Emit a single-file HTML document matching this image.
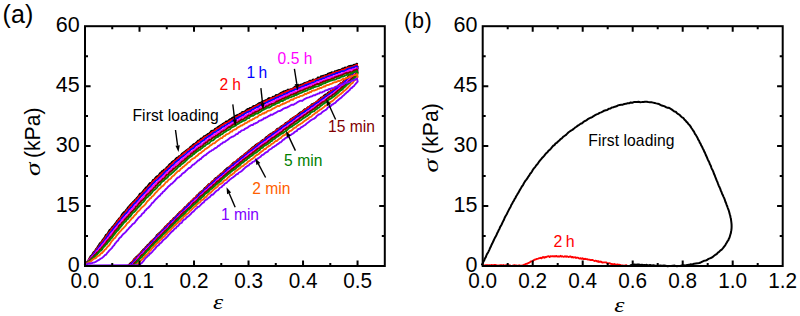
<!DOCTYPE html>
<html><head><meta charset="utf-8"><style>
html,body{margin:0;padding:0;background:#fff;}
body{width:800px;height:316px;overflow:hidden;font-family:"Liberation Sans",sans-serif;}
svg{display:block;}
</style></head><body>
<svg width="800" height="316" viewBox="0 0 800 316">
<rect width="800" height="316" fill="#fff"/>
<path d="M85,264.89 86,264.03 87,262.32 88,261.11 89,259.65 90,257.5 91,255.97 92,255.51 93,253.36 94,251.89 95,251.37 96,249.32 97,248.34 98,246.5 99,245.29 100,243.31 101,242.51 102,241.41 103,239.63 104,238.53 105,237.1 106,235.02 107,234.52 108,232.99 109,231.32 110,229.68 111,229.38 112,227.61 113,226.62 114,225.52 115,224.05 116,223.03 117,221.14 118,220.38 119,218.7 120,218.06 121,216.76 122,214.6 123,213.43 124,212.32 125,212.02 126,210.19 127,209.23 128,207.66 129,206.74 130,205.43 131,204.23 132,203.36 133,202.21 134,201.46 135,200.06 136,199.24 137,198.04 138,197.09 139,195.6 140,193.9 141,193.65 142,192.69 143,191.55 144,190.07 145,189.19 146,187.53 147,187.23 148,185.87 149,184.49 150,183.2 151,183.13 152,182.27 153,180.18 154,180.04 155,178.57 156,177.27 157,176.46 158,176.05 159,175.2 160,173.24 161,172.97 162,171.33 163,171.2 164,169.79 165,169.52 166,168.71 167,167.21 168,166.89 169,165.15 170,163.97 171,163.7 172,162.12 173,161.43 174,160.81 175,160.17 176,158.76 177,157.76 178,157.89 179,156.37 180,156.3 181,155.38 182,153.92 183,153.19 184,152.44 185,151.76 186,150.89 187,150.04 188,149.31 189,148.89 190,147.58 191,146.7 192,146.26 193,144.91 194,144.21 195,144.25 196,142.94 197,142.22 198,140.82 199,140.56 200,140.01 201,138.6 202,138.58 203,137.88 204,136.47 205,136.43 206,135.52 207,135.07 208,133.97 209,133.7 210,133.04 211,131.49 212,130.85 213,130.91 214,130.57 215,129.05 216,128.63 217,128.13 218,127.14 219,126.54 220,125.83 221,125.25 222,124.88 223,123.88 224,123.34 225,123.19 226,121.67 227,121.7 228,121.28 229,120.16 230,119.44 231,119.53 232,118.25 233,117.6 234,117.3 235,117.02 236,115.72 237,115.41 238,114.84 239,114.87 240,113.82 241,113.75 242,112.37 243,112.01 244,111.83 245,111.56 246,110.49 247,109.67 248,109 249,108.95 250,108.01 251,108.22 252,107.72 253,106.41 254,106 255,106.12 256,105.4 257,105.09 258,104.02 259,103.26 260,102.95 261,103.05 262,101.93 263,101.52 264,101.11 265,100.63 266,100.13 267,100.26 268,98.86 269,98.2 270,98.85 271,98.3 272,97.96 273,96.83 274,96.99 275,96.5 276,95.19 277,95.36 278,95.02 279,94.36 280,93.73 281,93.01 282,92.63 283,92.05 284,91.42 285,91.6 286,90.81 287,91 288,89.65 289,90.25 290,89.57 291,89.42 292,88.97 293,88.55 294,87.74 295,86.65 296,87.11 297,86.01 298,85.75 299,85.78 300,85.21 301,84.67 302,84.89 303,84.1 304,83.37 305,82.86 306,83.2 307,82.34 308,82.31 309,81.4 310,80.82 311,80.84 312,80.79 313,79.63 314,79.99 315,79.76 316,79.23 317,78.87 318,77.51 319,77.88 320,77.78 321,76.43 322,76.32 323,75.94 324,75.87 325,75.37 326,75.06 327,75.05 328,73.75 329,73.45 330,73.17 331,72.8 332,72.36 333,73.08 334,72.57 335,71.28 336,71.42 337,70.83 338,70.47 339,70.15 340,70.14 341,69.71 342,69.07 343,68.51 344,68.32 345,67.71 346,67.87 347,67.7 348,66.94 349,66.22 350,65.98 351,65.85 352,65.77 353,65.63 354,64.79 355,64.94 356,64.36 357,63.78" fill="none" stroke="#000000" stroke-width="2.2" stroke-linejoin="round" stroke-linecap="round"/>
<path d="M357.7,66.71 356.7,67.96 355.7,69.29 354.7,70.03 353.7,71.41 352.7,72.18 351.7,72.94 350.7,74.3 349.7,75.49 348.7,75.72 347.7,77.11 346.7,78.05 345.7,79.53 344.7,80.52 343.7,80.75 342.7,82.26 341.7,83.01 340.7,83.23 339.7,84.31 338.7,84.73 337.7,86.37 336.7,86.99 335.7,88.04 334.7,88.69 333.7,89.29 332.7,90.11 331.7,90.63 330.7,90.8 329.7,92.1 328.7,92.11 327.7,93 326.7,94.47 325.7,94.31 324.7,95.08 323.7,95.8 322.7,97.45 321.7,97.32 320.7,97.84 319.7,99.53 318.7,99.38 317.7,100.95 316.7,101.46 315.7,102.36 314.7,103.21 313.7,103.46 312.7,104.43 311.7,104.23 310.7,105.81 309.7,106.21 308.7,107.16 307.7,107.13 306.7,108.61 305.7,109.54 304.7,109.19 303.7,110.22 302.7,111.21 301.7,112.23 300.7,112.23 299.7,112.87 298.7,113.66 297.7,114.8 296.7,115.68 295.7,115.95 294.7,116.63 293.7,117.37 292.7,118.03 291.7,118.82 290.7,119.13 289.7,120.34 288.7,121.62 287.7,121.66 286.7,122.78 285.7,122.79 284.7,124.14 283.7,124.94 282.7,125.56 281.7,126.09 280.7,126.77 279.7,127.69 278.7,128.71 277.7,128.54 276.7,129.2 275.7,130.71 274.7,131.64 273.7,131.9 272.7,132.54 271.7,133.6 270.7,133.7 269.7,134.53 268.7,135.19 267.7,136.4 266.7,136.81 265.7,137.46 264.7,138.76 263.7,139.82 262.7,139.78 261.7,141.02 260.7,141.43 259.7,142.71 258.7,143.15 257.7,143.53 256.7,144.23 255.7,144.76 254.7,146.08 253.7,146.74 252.7,147.26 251.7,148.26 250.7,148.99 249.7,150.31 248.7,150.34 247.7,152.14 246.7,152.32 245.7,153.25 244.7,153.89 243.7,155.13 242.7,155.91 241.7,156.4 240.7,157.12 239.7,158.21 238.7,159.19 237.7,159.46 236.7,160.68 235.7,161.77 234.7,162.01 233.7,162.55 232.7,163.39 231.7,164.81 230.7,165.6 229.7,166.78 228.7,167.5 227.7,167.62 226.7,168.41 225.7,169.35 224.7,170.13 223.7,171.61 222.7,172.67 221.7,173.59 220.7,173.69 219.7,175.3 218.7,175.52 217.7,176.53 216.7,177.79 215.7,177.91 214.7,178.81 213.7,180.6 212.7,180.85 211.7,181.83 210.7,183.01 209.7,184.03 208.7,184.14 207.7,185.45 206.7,186.49 205.7,187.47 204.7,188.07 203.7,189.44 202.7,190.82 201.7,191.08 200.7,192.2 199.7,192.63 198.7,193.75 197.7,195.17 196.7,195.45 195.7,197.33 194.7,198.31 193.7,198.29 192.7,200.26 191.7,200.54 190.7,201.99 189.7,202.93 188.7,203.35 187.7,204.78 186.7,205.72 185.7,206.88 184.7,207.21 183.7,208.78 182.7,210.01 181.7,210.65 180.7,211.47 179.7,211.96 178.7,213.41 177.7,214.23 176.7,215.67 175.7,216.62 174.7,217.49 173.7,218.03 172.7,219.59 171.7,220.58 170.7,221.05 169.7,222.91 168.7,223.65 167.7,224.02 166.7,226.01 165.7,226.08 164.7,227.33 163.7,228.82 162.7,229.7 161.7,230.68 160.7,231.82 159.7,232.62 158.7,233.48 157.7,234.35 156.7,235.26 155.7,237.07 154.7,238.16 153.7,238.95 152.7,240.22 151.7,240.81 150.7,241.75 149.7,242.93 148.7,244.57 147.7,244.62 146.7,246.23 145.7,246.98 144.7,248.66 143.7,249.22 142.7,250.25 141.7,251.39 140.7,252.62 139.7,253.95 138.7,254.51 137.7,256.17 136.7,256.36 135.7,257.61 134.7,258.47 133.7,259.56 132.7,261.43 131.7,262.44 130.7,262.86 129.7,263.94 128.7,265.1" fill="none" stroke="#000000" stroke-width="1.8" stroke-linejoin="round" stroke-linecap="round"/>
<path d="M85,265.42 86,264.29 87,262.8 88,261.24 89,259.43 90,258.25 91,256.67 92,255.59 93,254.24 94,252.54 95,251.21 96,250.33 97,248.29 98,247.64 99,246.37 100,245.08 101,243.22 102,242.04 103,240.73 104,239.45 105,238.43 106,236.84 107,235.17 108,234.36 109,232.71 110,231.52 111,230.33 112,228.38 113,227.79 114,226.41 115,224.99 116,223.75 117,222.44 118,220.95 119,220.01 120,218.34 121,217.53 122,216.45 123,215.07 124,213.98 125,213.14 126,211.9 127,210.04 128,209.46 129,208.14 130,206.47 131,205.59 132,204.33 133,203.05 134,202.33 135,201.56 136,199.89 137,199.27 138,198.01 139,196.4 140,195.96 141,194.64 142,193.85 143,192.58 144,191.54 145,190.12 146,189.48 147,188.54 148,187.43 149,186.01 150,185.27 151,184 152,182.64 153,181.57 154,180.6 155,179.71 156,178.68 157,177.99 158,177.19 159,176.07 160,175 161,174.24 162,172.98 163,172.17 164,171.49 165,170.23 166,169.1 167,168.82 168,167.74 169,166.51 170,165.61 171,164.85 172,164.01 173,162.79 174,161.7 175,161.01 176,160.65 177,159.21 178,158.63 179,157.54 180,156.7 181,155.82 182,155.19 183,154.15 184,153.19 185,152.44 186,151.68 187,151.16 188,149.96 189,149.13 190,148.71 191,147.89 192,147.37 193,146 194,145.54 195,144.76 196,143.67 197,143.75 198,142.32 199,141.46 200,141.06 201,140.04 202,139.72 203,138.74 204,137.81 205,137.03 206,136.92 207,135.8 208,135.56 209,134.56 210,134.29 211,133.03 212,132.29 213,131.62 214,131.44 215,130.6 216,129.67 217,128.78 218,128.65 219,128.25 220,127.26 221,126.08 222,125.46 223,124.87 224,124.31 225,123.56 226,122.95 227,122.86 228,122.47 229,121.22 230,121.31 231,120.25 232,119.94 233,119.45 234,118.87 235,117.46 236,117.12 237,116.81 238,116.53 239,115.18 240,114.8 241,114.73 242,113.5 243,113.19 244,112.58 245,112.33 246,112.01 247,110.78 248,110.74 249,110.2 250,109.75 251,108.96 252,108.76 253,107.73 254,107.25 255,106.57 256,106.54 257,105.76 258,105.06 259,104.46 260,104.45 261,103.84 262,103.44 263,102.65 264,102.24 265,101.45 266,101.47 267,100.36 268,100.28 269,100.06 270,99.51 271,98.51 272,98.17 273,98.24 274,97.6 275,97.34 276,96.88 277,96.04 278,95.98 279,95.38 280,94.57 281,94.15 282,93.44 283,93.29 284,93.35 285,92.14 286,92.12 287,91.27 288,90.81 289,90.89 290,90.1 291,89.5 292,89.17 293,89.19 294,88.71 295,87.78 296,87.55 297,87.8 298,86.72 299,86.61 300,86.08 301,85.99 302,85.43 303,85.19 304,84.56 305,83.84 306,83.44 307,82.95 308,83.22 309,82.19 310,81.71 311,82.17 312,81.09 313,81.32 314,80.21 315,80.16 316,79.56 317,79.72 318,79.15 319,78.79 320,78.52 321,78.24 322,77.39 323,77.24 324,76.72 325,76.05 326,76.33 327,75.74 328,75.56 329,74.64 330,74.57 331,74.14 332,74.01 333,73.05 334,72.93 335,72.68 336,71.95 337,72.02 338,71.82 339,71.17 340,71.01 341,70.61 342,69.89 343,69.66 344,69.88 345,68.92 346,68.65 347,67.97 348,67.73 349,67.33 350,67.66 351,67.11 352,66.89 353,66.63 354,65.94 355,65.86 356,65.15 357,64.69 357.7,68.16 356.7,69.2 355.7,70.31 354.7,70.94 353.7,72.23 352.7,72.92 351.7,74.46 350.7,75.38 349.7,75.79 348.7,77.33 347.7,77.6 346.7,78.45 345.7,79.94 344.7,80.46 343.7,81.55 342.7,82.53 341.7,82.86 340.7,84.34 339.7,84.75 338.7,85.71 337.7,86.44 336.7,87.59 335.7,88.38 334.7,88.73 333.7,89.32 332.7,90.23 331.7,91.06 330.7,91.48 329.7,92.27 328.7,93.53 327.7,94.19 326.7,95.16 325.7,95.88 324.7,96.5 323.7,96.76 322.7,97.28 321.7,98.13 320.7,98.98 319.7,99.75 318.7,100.47 317.7,101.02 316.7,102.17 315.7,102.37 314.7,103.23 313.7,104.32 312.7,104.96 311.7,105.21 310.7,105.86 309.7,107.08 308.7,107.07 307.7,107.88 306.7,108.95 305.7,109.66 304.7,110.03 303.7,110.63 302.7,111.48 301.7,112.69 300.7,113.13 299.7,114.29 298.7,114.83 297.7,115.71 296.7,115.57 295.7,116.41 294.7,116.96 293.7,118.05 292.7,118.67 291.7,119.13 290.7,120.28 289.7,120.59 288.7,121.49 287.7,122.15 286.7,123.36 285.7,123.73 284.7,124.31 283.7,124.83 282.7,125.89 281.7,126.79 280.7,127.55 279.7,128.49 278.7,129.12 277.7,129.34 276.7,129.96 275.7,131.25 274.7,132.01 273.7,132.48 272.7,133.5 271.7,133.99 270.7,134.48 269.7,135.11 268.7,135.71 267.7,137.02 266.7,137.99 265.7,138.74 264.7,139.09 263.7,140.01 262.7,141 261.7,141.65 260.7,142.21 259.7,142.8 258.7,143.65 257.7,144.1 256.7,144.87 255.7,146.09 254.7,147.13 253.7,147.5 252.7,148.15 251.7,148.87 250.7,149.74 249.7,150.83 248.7,151.3 247.7,152.54 246.7,152.61 245.7,153.54 244.7,154.52 243.7,155.22 242.7,156.41 241.7,157.2 240.7,158.09 239.7,158.62 238.7,158.9 237.7,160.21 236.7,161.01 235.7,161.77 234.7,162.41 233.7,163.62 232.7,164.64 231.7,164.75 230.7,166.09 229.7,166.67 228.7,167.64 227.7,168.84 226.7,169.75 225.7,170.32 224.7,170.77 223.7,172.29 222.7,172.49 221.7,173.54 220.7,174.82 219.7,175.23 218.7,176.07 217.7,177.57 216.7,178.45 215.7,178.77 214.7,179.73 213.7,180.53 212.7,181.29 211.7,182.3 210.7,183.86 209.7,183.96 208.7,185.01 207.7,185.89 206.7,186.7 205.7,188.03 204.7,189.14 203.7,190.16 202.7,190.9 201.7,192 200.7,192.2 199.7,193.39 198.7,194.94 197.7,195.08 196.7,196.21 195.7,197.35 194.7,198.11 193.7,199.31 192.7,199.82 191.7,200.95 190.7,202.56 189.7,202.79 188.7,204.44 187.7,204.76 186.7,206.46 185.7,207.15 184.7,208.1 183.7,208.63 182.7,209.53 181.7,211.15 180.7,211.61 179.7,212.61 178.7,214.17 177.7,215.21 176.7,215.46 175.7,217.28 174.7,217.9 173.7,218.76 172.7,219.52 171.7,220.78 170.7,222.33 169.7,222.7 168.7,223.58 167.7,224.61 166.7,225.61 165.7,226.83 164.7,228.36 163.7,228.63 162.7,229.76 161.7,231.45 160.7,232.54 159.7,233.55 158.7,233.92 157.7,235.05 156.7,236.63 155.7,237.24 154.7,238.48 153.7,239.17 152.7,239.95 151.7,241.28 150.7,242.69 149.7,243.77 148.7,244.63 147.7,245.58 146.7,246.7 145.7,247.67 144.7,248.81 143.7,250.13 142.7,250.62 141.7,252.04 140.7,253.4 139.7,254.39 138.7,254.85 137.7,256.62 136.7,257.57 135.7,258.03 134.7,259.19 133.7,260.2 132.7,261.14 131.7,263.05 130.7,263.61 129.7,265.1 128.7,264.85" fill="none" stroke="#ff0000" stroke-width="1.9" stroke-linejoin="round" stroke-linecap="round"/>
<path d="M85,264.76 86,264.39 87,263 88,261.87 89,260.29 90,258.85 91,257.78 92,255.89 93,255.01 94,253.65 95,252.11 96,251.25 97,249.73 98,248.63 99,247.24 100,245.91 101,244.68 102,243.61 103,242.67 104,241.34 105,239.99 106,238.67 107,236.88 108,236.21 109,234.28 110,232.85 111,231.9 112,230.83 113,229.19 114,228.19 115,226.6 116,225.96 117,224.24 118,223.02 119,221.84 120,220.93 121,219.82 122,218.21 123,216.94 124,215.92 125,214.25 126,213.4 127,212.61 128,211.39 129,209.58 130,209.15 131,207.58 132,206.98 133,205.29 134,204.03 135,203.21 136,202.39 137,200.87 138,200.16 139,198.92 140,197.51 141,196.37 142,195.47 143,194.3 144,193.2 145,192.39 146,191.53 147,190.21 148,188.77 149,187.8 150,186.9 151,186.09 152,184.64 153,183.57 154,182.77 155,181.73 156,180.5 157,179.97 158,179.33 159,178 160,177.21 161,176.32 162,175.37 163,174.48 164,173.11 165,172.38 166,170.94 167,170.69 168,169.31 169,168.48 170,167.94 171,166.49 172,165.51 173,165.18 174,164.09 175,162.74 176,161.82 177,161.23 178,160.06 179,159.94 180,158.5 181,157.73 182,156.99 183,156.27 184,155.36 185,154.71 186,153.92 187,152.9 188,151.79 189,151.78 190,150.72 191,149.37 192,148.91 193,148.4 194,147.84 195,146.23 196,145.41 197,145.07 198,144.26 199,143.93 200,143.12 201,141.94 202,141.27 203,140.69 204,140.23 205,138.89 206,138.35 207,137.36 208,137.15 209,135.89 210,136 211,134.94 212,134.29 213,133.17 214,132.62 215,132.15 216,131.83 217,130.87 218,129.98 219,129.95 220,129 221,128.23 222,127.29 223,126.74 224,126.64 225,125.32 226,125.04 227,124.5 228,123.64 229,123.39 230,122.91 231,122.25 232,121.53 233,120.45 234,119.72 235,119.47 236,118.77 237,118.07 238,118.1 239,116.93 240,116.9 241,116.43 242,115.13 243,115.28 244,114.25 245,113.53 246,112.95 247,112.27 248,112.13 249,111.49 250,111.37 251,110.81 252,109.58 253,109.36 254,108.82 255,108.11 256,107.65 257,107.15 258,107.02 259,106.19 260,105.47 261,105.07 262,104.76 263,104.37 264,103.59 265,103.5 266,102.58 267,102.5 268,101.96 269,101.08 270,101.12 271,100.32 272,99.98 273,99.56 274,99.12 275,98.48 276,97.67 277,97.87 278,97.47 279,96.68 280,96.31 281,95.58 282,95.69 283,95.05 284,94.19 285,94.28 286,94 287,92.98 288,93.13 289,92.23 290,91.53 291,91.58 292,90.81 293,90.74 294,90.18 295,89.33 296,89.29 297,89.17 298,88.41 299,88.05 300,87.93 301,87.15 302,86.78 303,86.45 304,86.26 305,85.3 306,84.8 307,85 308,84.41 309,83.79 310,83.93 311,83.53 312,82.82 313,82.83 314,82.31 315,81.84 316,81.04 317,80.4 318,80.62 319,80.28 320,79.56 321,79.29 322,78.99 323,78.32 324,78.35 325,77.85 326,77.31 327,76.69 328,76.72 329,76.13 330,76.13 331,75.26 332,75.09 333,74.54 334,74.36 335,74.14 336,73.35 337,72.94 338,72.96 339,72.34 340,72.25 341,71.58 342,71.16 343,71.19 344,71.17 345,70.76 346,70.08 347,69.61 348,68.96 349,68.78 350,68.46 351,68.66 352,67.56 353,67.95 354,67.17 355,66.77 356,66.25 357,66.53 357.7,68.83 356.7,70.24 355.7,71.25 354.7,72.01 353.7,73.06 352.7,74.76 351.7,75.58 350.7,76.52 349.7,77.64 348.7,77.88 347.7,79.37 346.7,80.34 345.7,80.78 344.7,81.89 343.7,83.25 342.7,83.54 341.7,84.8 340.7,85.11 339.7,86.39 338.7,86.86 337.7,87.88 336.7,88.55 335.7,89.78 334.7,90.44 333.7,90.98 332.7,91.89 331.7,92.38 330.7,93.45 329.7,93.68 328.7,94.66 327.7,95.42 326.7,95.96 325.7,96.37 324.7,97.2 323.7,98.34 322.7,98.67 321.7,99.88 320.7,100.37 319.7,101.48 318.7,102.1 317.7,102.7 316.7,103.1 315.7,103.51 314.7,104.68 313.7,105.56 312.7,106.43 311.7,106.49 310.7,107.16 309.7,108.6 308.7,109.1 307.7,109.57 306.7,110.51 305.7,110.68 304.7,111.75 303.7,112.56 302.7,113.21 301.7,113.52 300.7,114.21 299.7,115.35 298.7,116.29 297.7,116.33 296.7,116.92 295.7,117.69 294.7,119.03 293.7,119.39 292.7,120.15 291.7,121.35 290.7,121.71 289.7,122.11 288.7,123.22 287.7,123.3 286.7,124.27 285.7,125.35 284.7,125.59 283.7,126.19 282.7,127.34 281.7,127.89 280.7,129.18 279.7,129.12 278.7,130.47 277.7,130.82 276.7,131.92 275.7,132.32 274.7,133.25 273.7,133.67 272.7,134.31 271.7,135.24 270.7,136.29 269.7,136.61 268.7,137.25 267.7,138.15 266.7,138.6 265.7,139.54 264.7,140.52 263.7,141.24 262.7,142.03 261.7,142.5 260.7,143.02 259.7,143.77 258.7,144.81 257.7,145.44 256.7,146.53 255.7,147.02 254.7,148.23 253.7,148.85 252.7,149.68 251.7,150.52 250.7,151.1 249.7,151.79 248.7,152.47 247.7,153.03 246.7,154.47 245.7,155 244.7,155.43 243.7,156.96 242.7,157.45 241.7,158.29 240.7,158.93 239.7,159.45 238.7,161.05 237.7,161.11 236.7,162.1 235.7,163.49 234.7,163.53 233.7,164.69 232.7,165.5 231.7,166.13 230.7,167.57 229.7,167.95 228.7,168.43 227.7,169.69 226.7,170.12 225.7,171.61 224.7,172.61 223.7,173.5 222.7,173.59 221.7,175.02 220.7,175.56 219.7,176.58 218.7,177.3 217.7,178.19 216.7,178.91 215.7,180.24 214.7,180.65 213.7,182.33 212.7,182.4 211.7,184.12 210.7,184.33 209.7,185.14 208.7,186.64 207.7,187.36 206.7,188.48 205.7,189.16 204.7,190.19 203.7,190.62 202.7,192.08 201.7,192.86 200.7,194.2 199.7,194.27 198.7,195.26 197.7,196.75 196.7,197.92 195.7,198.41 194.7,199.61 193.7,200.43 192.7,201.23 191.7,202.25 190.7,203.33 189.7,203.78 188.7,204.99 187.7,206.34 186.7,206.88 185.7,208.04 184.7,208.82 183.7,209.89 182.7,211.13 181.7,212.2 180.7,213.37 179.7,213.92 178.7,214.67 177.7,215.78 176.7,216.52 175.7,217.68 174.7,218.98 173.7,220.01 172.7,220.68 171.7,221.63 170.7,222.56 169.7,223.64 168.7,224.94 167.7,225.73 166.7,227.31 165.7,228.04 164.7,228.85 163.7,229.96 162.7,230.63 161.7,232.28 160.7,233.32 159.7,234 158.7,235.36 157.7,235.98 156.7,236.97 155.7,238.01 154.7,239.02 153.7,240.43 152.7,241.5 151.7,242.62 150.7,243.11 149.7,244.75 148.7,245.54 147.7,246.5 146.7,247.67 145.7,248.66 144.7,249.5 143.7,250.73 142.7,252.02 141.7,253.14 140.7,254.38 139.7,254.8 138.7,256.49 137.7,257.47 136.7,258.46 135.7,259.77 134.7,260.08 133.7,261.73 132.7,262.91 131.7,263.29 130.7,264.79 129.7,265.6" fill="none" stroke="#0000ff" stroke-width="1.9" stroke-linejoin="round" stroke-linecap="round"/>
<path d="M85,265.01 86,264.44 87,263.31 88,261.72 89,260.3 90,259.21 91,258.62 92,257.11 93,255.87 94,254.84 95,254.14 96,252.38 97,251.02 98,250.7 99,248.96 100,247.85 101,247.19 102,245.37 103,243.98 104,243.47 105,241.65 106,240.37 107,239.76 108,237.85 109,237.18 110,235.4 111,234.09 112,232.74 113,231.76 114,230.51 115,229.1 116,227.95 117,226.52 118,225.77 119,224.63 120,223.26 121,222.13 122,220.27 123,219.27 124,218.06 125,216.86 126,216.44 127,215.24 128,214.1 129,212.63 130,211.1 131,210.25 132,208.78 133,208.42 134,206.72 135,205.63 136,205.11 137,203.33 138,202.87 139,201.22 140,200.45 141,198.86 142,198.49 143,196.96 144,195.84 145,195.05 146,193.93 147,192.56 148,191.39 149,190.75 150,189.22 151,188.94 152,187.44 153,186.26 154,185.38 155,184.18 156,183.35 157,182.56 158,181.44 159,180.39 160,179.37 161,178.57 162,177.86 163,176.59 164,175.93 165,174.73 166,173.46 167,172.56 168,172.24 169,170.99 170,169.98 171,169.19 172,168.58 173,167.25 174,166.34 175,165.46 176,164.26 177,163.86 178,162.93 179,162.08 180,161.18 181,160.34 182,159.71 183,158.39 184,158.27 185,156.66 186,156.51 187,155.06 188,154.8 189,153.51 190,152.54 191,152.16 192,151.63 193,150.85 194,150.1 195,149.41 196,147.8 197,147.33 198,146.32 199,146.14 200,145.12 201,144.63 202,143.94 203,143.38 204,142.36 205,141.81 206,140.79 207,139.65 208,139.67 209,138.24 210,137.53 211,137.5 212,136.31 213,135.96 214,134.7 215,134.19 216,133.96 217,132.68 218,132.44 219,132.16 220,130.85 221,130.64 222,130.02 223,129.26 224,128.75 225,128.05 226,126.8 227,126.33 228,126.02 229,125.79 230,124.49 231,124.21 232,123.19 233,123.23 234,122.27 235,121.74 236,121.28 237,120.21 238,120.15 239,119.63 240,119.11 241,118.01 242,117.4 243,116.77 244,116.86 245,115.89 246,115.29 247,114.85 248,114.46 249,113.57 250,113.04 251,112.89 252,112.36 253,111.39 254,110.66 255,110.9 256,110.2 257,109.55 258,108.87 259,108.85 260,107.86 261,107.16 262,106.55 263,106.27 264,105.99 265,105.28 266,105.31 267,104.55 268,103.89 269,103.59 270,103.05 271,102.58 272,101.99 273,101.54 274,101.04 275,100.87 276,99.83 277,99.9 278,99 279,99.03 280,97.87 281,97.79 282,97.3 283,97.09 284,96.18 285,95.79 286,95.23 287,95.17 288,94.74 289,93.79 290,93.51 291,93.1 292,93.35 293,92.46 294,92.14 295,91.46 296,91.37 297,91.09 298,90.54 299,89.52 300,89.5 301,89.13 302,88.31 303,88.57 304,87.74 305,87.31 306,87.2 307,86.76 308,86.28 309,86.21 310,85.5 311,84.94 312,84.3 313,84.34 314,83.78 315,83.54 316,82.98 317,82.28 318,81.92 319,81.64 320,81.2 321,81.5 322,80.87 323,80.18 324,80.22 325,79.78 326,78.88 327,79.12 328,78.28 329,78.59 330,77.45 331,77.2 332,76.8 333,76.98 334,76.57 335,75.98 336,75.23 337,75.11 338,74.99 339,74.04 340,74.45 341,74.01 342,73.73 343,73.15 344,72.72 345,72.67 346,71.67 347,71.34 348,70.82 349,70.51 350,70.7 351,69.71 352,69.93 353,69.26 354,69.33 355,68.86 356,68.44 357,68.22 357.7,70.5 356.7,71.77 355.7,72.92 354.7,74.02 353.7,75.27 352.7,76.47 351.7,77.35 350.7,78.5 349.7,79.27 348.7,79.92 347.7,81.01 346.7,82.16 345.7,83.14 344.7,83.64 343.7,84.52 342.7,85.64 341.7,86.15 340.7,87.6 339.7,87.64 338.7,89.05 337.7,89.72 336.7,90.26 335.7,91.38 334.7,92.07 333.7,93.27 332.7,93.95 331.7,94.42 330.7,95.4 329.7,96.15 328.7,96.23 327.7,97.55 326.7,98.28 325.7,99.15 324.7,99.66 323.7,100.05 322.7,100.61 321.7,101.73 320.7,102.05 319.7,103.26 318.7,103.81 317.7,104.75 316.7,105.04 315.7,105.71 314.7,106.96 313.7,107.46 312.7,107.91 311.7,108.79 310.7,109.38 309.7,110.28 308.7,110.88 307.7,111.38 306.7,112.71 305.7,113.33 304.7,113.93 303.7,114.2 302.7,114.83 301.7,116.02 300.7,116.81 299.7,117.37 298.7,117.68 297.7,118.84 296.7,119.37 295.7,119.94 294.7,120.84 293.7,121.43 292.7,122.31 291.7,123.12 290.7,124.03 289.7,123.96 288.7,125.08 287.7,126.13 286.7,126.58 285.7,127.22 284.7,128.18 283.7,128.16 282.7,129.56 281.7,130.12 280.7,130.8 279.7,131.28 278.7,132.27 277.7,132.55 276.7,133.63 275.7,134.11 274.7,135.44 273.7,136.05 272.7,136.48 271.7,137.46 270.7,137.86 269.7,138.71 268.7,139.12 267.7,140.48 266.7,141.13 265.7,141.87 264.7,142 263.7,143.4 262.7,143.42 261.7,144.67 260.7,145.34 259.7,145.71 258.7,146.79 257.7,147.96 256.7,148.48 255.7,148.96 254.7,150.17 253.7,150.52 252.7,151.77 251.7,152.1 250.7,152.58 249.7,154.16 248.7,154.12 247.7,155.07 246.7,156.31 245.7,156.51 244.7,157.68 243.7,158.76 242.7,159.31 241.7,159.89 240.7,161.05 239.7,161.92 238.7,162.5 237.7,163.35 236.7,163.89 235.7,164.78 234.7,166.13 233.7,166.93 232.7,166.88 231.7,167.89 230.7,168.74 229.7,170.09 228.7,170.39 227.7,171.21 226.7,172.59 225.7,172.9 224.7,174.48 223.7,174.86 222.7,176.12 221.7,176.91 220.7,177.22 219.7,178.61 218.7,179.15 217.7,179.85 216.7,180.57 215.7,182.04 214.7,182.79 213.7,183.45 212.7,184.81 211.7,185.13 210.7,186.25 209.7,186.83 208.7,187.97 207.7,189.35 206.7,189.91 205.7,190.51 204.7,191.5 203.7,192.78 202.7,193.37 201.7,194.84 200.7,195.02 199.7,196.68 198.7,197.39 197.7,198.5 196.7,199.02 195.7,199.7 194.7,200.73 193.7,202.09 192.7,202.49 191.7,203.52 190.7,205.08 189.7,206.12 188.7,207.05 187.7,208 186.7,208.71 185.7,209.96 184.7,210.77 183.7,211.61 182.7,212.47 181.7,213.08 180.7,214.12 179.7,215.24 178.7,216.42 177.7,217.1 176.7,218.85 175.7,219.48 174.7,220.62 173.7,221.76 172.7,222.15 171.7,223.75 170.7,224.81 169.7,225.2 168.7,226.08 167.7,227.69 166.7,228.78 165.7,229.72 164.7,230.38 163.7,231.57 162.7,232.15 161.7,233.28 160.7,234.47 159.7,235.79 158.7,236.23 157.7,238.02 156.7,238.24 155.7,240.12 154.7,240.5 153.7,242.06 152.7,243.1 151.7,244.27 150.7,244.87 149.7,246.13 148.7,246.81 147.7,248.35 146.7,248.75 145.7,250.5 144.7,251.29 143.7,251.87 142.7,253.72 141.7,254.22 140.7,255.06 139.7,256.3 138.7,257.16 137.7,258.45 136.7,259.91 135.7,261.23 134.7,261.98 133.7,263.26 132.7,264.31 131.7,265.29 130.7,265.1" fill="none" stroke="#ff00ff" stroke-width="1.9" stroke-linejoin="round" stroke-linecap="round"/>
<path d="M85,264.98 86,263.86 87,263.17 88,261.83 89,261.29 90,259.89 91,259.11 92,258.06 93,257.12 94,255.68 95,254.74 96,254.1 97,252.63 98,251.98 99,251.18 100,249.57 101,248.98 102,247.54 103,246.68 104,245.13 105,244.13 106,242.86 107,241.19 108,240.23 109,239.04 110,237.67 111,236.59 112,235.55 113,234.18 114,232.93 115,231.07 116,230.33 117,229.02 118,228.08 119,226.02 120,224.98 121,224.52 122,222.82 123,221.97 124,220.72 125,219.41 126,218.31 127,217.29 128,216.54 129,215 130,214.1 131,212.54 132,211.79 133,210.57 134,209.58 135,208.59 136,206.76 137,206.46 138,205.03 139,203.62 140,202.71 141,201.29 142,200.33 143,199.79 144,198.6 145,197.67 146,195.97 147,194.86 148,194.05 149,193.1 150,192.25 151,190.83 152,190.19 153,189.02 154,187.73 155,187.16 156,185.51 157,184.97 158,183.6 159,182.48 160,181.88 161,180.94 162,180.05 163,178.86 164,178.4 165,177.31 166,175.8 167,174.72 168,174.64 169,173.22 170,172.02 171,171.16 172,170.72 173,169.34 174,168.62 175,168 176,166.81 177,166.2 178,165.59 179,164.58 180,163.57 181,162.7 182,161.56 183,161.01 184,160.18 185,159.29 186,158.37 187,157.78 188,156.46 189,156.11 190,155.53 191,153.88 192,153.28 193,153.14 194,151.54 195,151.42 196,150.43 197,149.2 198,148.93 199,147.61 200,147.61 201,146.37 202,146.18 203,145.41 204,143.99 205,143.5 206,142.55 207,142.37 208,141.05 209,140.32 210,139.65 211,139.62 212,138.37 213,137.74 214,137.16 215,136.57 216,135.77 217,135.57 218,134.35 219,133.81 220,133.49 221,132.28 222,131.56 223,131.51 224,130.39 225,130.27 226,129.57 227,128.53 228,127.87 229,127.03 230,127.11 231,126.1 232,125.4 233,124.64 234,124.08 235,124.06 236,122.8 237,122.58 238,122.06 239,121.38 240,120.78 241,120.11 242,119.34 243,119.34 244,118.84 245,117.98 246,117.13 247,117.17 248,115.98 249,115.4 250,115.26 251,114.9 252,114.13 253,113.17 254,113.42 255,112.15 256,111.79 257,111.84 258,111.15 259,110.59 260,109.47 261,109.65 262,108.73 263,107.88 264,108.07 265,107.7 266,106.41 267,106.28 268,106.19 269,105.18 270,104.67 271,104.61 272,103.83 273,103.85 274,103.24 275,102.77 276,102.16 277,101.23 278,101.21 279,100.64 280,100.1 281,99.71 282,99.02 283,98.47 284,98.66 285,97.72 286,97.03 287,97.37 288,96.51 289,96.21 290,95.47 291,94.86 292,94.59 293,94.61 294,93.68 295,93.82 296,92.85 297,92.95 298,91.89 299,91.7 300,91 301,90.6 302,90.52 303,89.96 304,89.71 305,89.01 306,88.68 307,88.28 308,88.4 309,87.26 310,87.16 311,87.15 312,86.5 313,85.81 314,86.08 315,84.89 316,84.52 317,84.02 318,84.01 319,84 320,83.09 321,82.7 322,82.78 323,81.75 324,81.31 325,81.51 326,80.61 327,80.62 328,79.9 329,79.93 330,79.78 331,79.05 332,78.51 333,78.45 334,78.15 335,77.19 336,76.99 337,76.74 338,76.49 339,75.91 340,75.89 341,75.16 342,75.37 343,74.51 344,74.02 345,73.53 346,73.21 347,72.92 348,73.16 349,72.38 350,72.04 351,72.14 352,71.79 353,71.24 354,70.41 355,70.13 356,69.93 357,69.34 357.7,72.42 356.7,73.35 355.7,74.42 354.7,75.9 353.7,76.78 352.7,77.64 351.7,78.65 350.7,79.75 349.7,80.78 348.7,81.13 347.7,82.81 346.7,83.39 345.7,84.19 344.7,85.64 343.7,86.35 342.7,86.86 341.7,87.42 340.7,88.64 339.7,89.48 338.7,90.25 337.7,90.81 336.7,92.04 335.7,92.54 334.7,93.77 333.7,94.33 332.7,94.87 331.7,96.09 330.7,96.48 329.7,96.89 328.7,97.8 327.7,98.33 326.7,99.4 325.7,100.56 324.7,101.31 323.7,101.78 322.7,102.05 321.7,102.85 320.7,103.54 319.7,104.41 318.7,105.37 317.7,105.54 316.7,106.67 315.7,107.33 314.7,108.26 313.7,109.12 312.7,109.45 311.7,110.34 310.7,110.76 309.7,111.63 308.7,112.51 307.7,112.69 306.7,113.82 305.7,114.51 304.7,114.94 303.7,115.7 302.7,116.93 301.7,117.21 300.7,117.77 299.7,118.56 298.7,119.48 297.7,120.08 296.7,120.74 295.7,121.43 294.7,122.04 293.7,123 292.7,123.8 291.7,124.05 290.7,125.21 289.7,125.66 288.7,126.97 287.7,127.65 286.7,127.63 285.7,128.85 284.7,129.25 283.7,129.75 282.7,131.15 281.7,131.89 280.7,132.5 279.7,133.08 278.7,134.11 277.7,134.44 276.7,135.27 275.7,135.97 274.7,136.88 273.7,137.6 272.7,137.83 271.7,138.47 270.7,139.5 269.7,140.27 268.7,140.78 267.7,141.97 266.7,142.7 265.7,143.29 264.7,143.89 263.7,144.77 262.7,145.06 261.7,146.36 260.7,146.49 259.7,147.94 258.7,148.43 257.7,148.87 256.7,149.55 255.7,150.67 254.7,151.31 253.7,152.28 252.7,152.5 251.7,153.97 250.7,154.34 249.7,155.12 248.7,156.16 247.7,156.82 246.7,157.45 245.7,158.1 244.7,159.04 243.7,159.44 242.7,160.43 241.7,161.74 240.7,161.9 239.7,162.67 238.7,164.16 237.7,164.53 236.7,165.48 235.7,166.35 234.7,167.28 233.7,167.74 232.7,168.97 231.7,169.1 230.7,170.69 229.7,171.04 228.7,172.15 227.7,172.7 226.7,173.94 225.7,174.45 224.7,175.5 223.7,176.1 222.7,177.42 221.7,178.22 220.7,178.57 219.7,179.93 218.7,180.96 217.7,181.2 216.7,182.03 215.7,183.57 214.7,184.48 213.7,184.61 212.7,186.08 211.7,187.1 210.7,187.39 209.7,188.75 208.7,189.22 207.7,190.56 206.7,191.21 205.7,192.08 204.7,192.68 203.7,194.07 202.7,195.02 201.7,195.57 200.7,196.27 199.7,197.23 198.7,198.31 197.7,199.91 196.7,200.61 195.7,201.68 194.7,202.49 193.7,202.87 192.7,204.04 191.7,205.49 190.7,206.35 189.7,207.43 188.7,208.23 187.7,209.09 186.7,210.09 185.7,211.19 184.7,211.72 183.7,212.33 182.7,213.55 181.7,214.25 180.7,215.46 179.7,216.72 178.7,217.42 177.7,218.38 176.7,219.22 175.7,220.45 174.7,221.58 173.7,222.64 172.7,223.95 171.7,224.16 170.7,225.32 169.7,226.16 168.7,227.94 167.7,228.67 166.7,229.7 165.7,230.86 164.7,231.14 163.7,232.97 162.7,233.47 161.7,234.76 160.7,235.58 159.7,236.91 158.7,237.54 157.7,238.54 156.7,239.55 155.7,241.01 154.7,241.8 153.7,242.57 152.7,243.79 151.7,245.02 150.7,245.89 149.7,247.14 148.7,248.41 147.7,249.28 146.7,250.47 145.7,251.08 144.7,252.65 143.7,253.77 142.7,254.46 141.7,255.07 140.7,256.19 139.7,257.86 138.7,259.02 137.7,259.97 136.7,260.84 135.7,261.95 134.7,262.64 133.7,264.15 132.7,265.59 131.7,264.94" fill="none" stroke="#800000" stroke-width="1.9" stroke-linejoin="round" stroke-linecap="round"/>
<path d="M85,265.26 86,264.55 87,263.46 88,262.29 89,261.29 90,260.85 91,260.14 92,259.21 93,257.89 94,257.3 95,256.45 96,255.14 97,254.55 98,253.26 99,252.12 100,250.94 101,250.57 102,249.53 103,247.8 104,246.7 105,245.78 106,244.5 107,243.77 108,242.06 109,241.19 110,239.91 111,238.48 112,237.68 113,236.04 114,234.86 115,233.74 116,232.27 117,230.84 118,230.31 119,228.93 120,227.56 121,226.35 122,225.31 123,223.89 124,222.57 125,221.87 126,221.07 127,219.23 128,218.9 129,217.24 130,216.69 131,215.37 132,213.8 133,212.64 134,212.14 135,211.11 136,209.85 137,208.55 138,207.42 139,206.54 140,205.48 141,204.4 142,202.82 143,202.22 144,201.26 145,199.84 146,198.26 147,197.36 148,196.71 149,195.45 150,194.84 151,193.55 152,192.56 153,191.03 154,190.33 155,189.48 156,188.64 157,187.61 158,186.03 159,185.25 160,184.68 161,182.89 162,181.89 163,181.02 164,180.54 165,179.22 166,178.6 167,177.76 168,176.8 169,175.17 170,174.83 171,174 172,173 173,172.23 174,171.28 175,170.2 176,169.53 177,168.35 178,167.07 179,166.36 180,166.07 181,164.67 182,163.93 183,163.44 184,162.42 185,161.67 186,160.55 187,159.75 188,158.54 189,157.83 190,156.98 191,156.51 192,155.7 193,154.49 194,154.2 195,152.94 196,152.41 197,151.31 198,150.94 199,149.88 200,149.83 201,148.55 202,148.22 203,147.13 204,146.28 205,146.01 206,144.77 207,144.26 208,143.65 209,143.25 210,142.28 211,140.98 212,140.64 213,140.39 214,139.61 215,138.49 216,137.58 217,137.03 218,136.8 219,135.61 220,135.58 221,134.35 222,134.08 223,133.43 224,132.37 225,131.98 226,131.43 227,130.47 228,130.08 229,129.54 230,129.21 231,127.98 232,127.27 233,126.95 234,126.43 235,125.72 236,125.51 237,124.27 238,123.95 239,123.33 240,122.5 241,122.15 242,121.57 243,120.92 244,120.71 245,120.33 246,119.75 247,118.51 248,118.1 249,118.06 250,116.73 251,116.19 252,115.62 253,115.89 254,114.94 255,114.34 256,113.51 257,113.69 258,113.26 259,112.46 260,112.14 261,111.32 262,110.57 263,109.94 264,109.55 265,108.9 266,108.6 267,107.81 268,107.31 269,107.58 270,107.05 271,106.53 272,105.63 273,105.23 274,104.84 275,104.58 276,103.67 277,103.38 278,102.94 279,102.74 280,101.83 281,101.05 282,100.95 283,100.93 284,99.83 285,99.78 286,98.89 287,98.56 288,98.43 289,97.52 290,97.39 291,97.07 292,96.45 293,96.35 294,95.99 295,95.05 296,95.05 297,94.62 298,94.05 299,93.62 300,93.18 301,92.91 302,92.45 303,91.65 304,91.58 305,91.22 306,90.58 307,90.56 308,89.63 309,89.43 310,89.04 311,88.67 312,87.89 313,87.92 314,87.03 315,87 316,86.53 317,86.36 318,86.11 319,85.83 320,84.76 321,84.98 322,84.2 323,83.84 324,83.04 325,83.39 326,82.44 327,82.1 328,81.74 329,81.3 330,80.97 331,80.59 332,80.43 333,79.9 334,79.88 335,79.67 336,79.29 337,78.42 338,78.32 339,78 340,77.62 341,76.96 342,76.4 343,76.54 344,76.08 345,75.44 346,75.36 347,74.45 348,74.73 349,74.47 350,74.17 351,73.04 352,73.19 353,72.91 354,71.97 355,72.03 356,71.29 357,70.96 357.7,73.79 356.7,75.09 355.7,76.66 354.7,77.47 353.7,78.7 352.7,79.87 351.7,80.14 350.7,81.76 349.7,82.79 348.7,83.53 347.7,84.2 346.7,85 345.7,86.16 344.7,87.01 343.7,87.81 342.7,89.07 341.7,89.91 340.7,90.43 339.7,91.21 338.7,92.33 337.7,93.35 336.7,94.12 335.7,94.89 334.7,95.91 333.7,96.56 332.7,97.03 331.7,98.05 330.7,98.72 329.7,99.17 328.7,99.76 327.7,100.68 326.7,101.73 325.7,102.49 324.7,102.82 323.7,103.76 322.7,104.07 321.7,105.27 320.7,105.86 319.7,106.87 318.7,107.68 317.7,107.67 316.7,109.21 315.7,109.22 314.7,110.65 313.7,111.39 312.7,111.41 311.7,112.19 310.7,112.77 309.7,114.18 308.7,114.75 307.7,115.65 306.7,116.22 305.7,116.52 304.7,117.61 303.7,117.94 302.7,118.62 301.7,119.42 300.7,120.37 299.7,120.73 298.7,121.66 297.7,122.37 296.7,123.28 295.7,123.7 294.7,124.36 293.7,125.19 292.7,125.81 291.7,126.76 290.7,126.91 289.7,127.68 288.7,128.26 287.7,129.31 286.7,130.41 285.7,130.89 284.7,131.64 283.7,132.62 282.7,133.23 281.7,133.46 280.7,134.11 279.7,135.11 278.7,135.55 277.7,136.59 276.7,136.84 275.7,137.84 274.7,138.86 273.7,139.16 272.7,139.79 271.7,141.05 270.7,141.27 269.7,142.64 268.7,143.1 267.7,144.08 266.7,144.49 265.7,145.18 264.7,145.71 263.7,146.27 262.7,147.81 261.7,147.89 260.7,148.51 259.7,150.02 258.7,150.41 257.7,151.19 256.7,152.25 255.7,152.83 254.7,153.16 253.7,153.94 252.7,155.04 251.7,155.82 250.7,156.18 249.7,156.97 248.7,157.97 247.7,158.34 246.7,159.78 245.7,160.43 244.7,160.75 243.7,161.92 242.7,162.72 241.7,163.06 240.7,164.16 239.7,165.28 238.7,165.78 237.7,166.82 236.7,167.18 235.7,168.68 234.7,169.19 233.7,169.91 232.7,170.23 231.7,171.36 230.7,171.87 229.7,173.09 228.7,173.68 227.7,174.57 226.7,175.47 225.7,176.16 224.7,177.13 223.7,178.17 222.7,178.69 221.7,179.92 220.7,181.13 219.7,181.78 218.7,182.85 217.7,182.95 216.7,184.32 215.7,184.81 214.7,186.3 213.7,186.79 212.7,187.87 211.7,188.8 210.7,189.1 209.7,189.96 208.7,191.49 207.7,192.39 206.7,192.94 205.7,193.48 204.7,194.38 203.7,195.98 202.7,196.79 201.7,197.42 200.7,198.6 199.7,199.64 198.7,199.84 197.7,201.42 196.7,202.56 195.7,203.39 194.7,204.33 193.7,204.87 192.7,205.95 191.7,206.45 190.7,208 189.7,208.83 188.7,209.55 187.7,210.18 186.7,211.25 185.7,212.4 184.7,213.83 183.7,214.38 182.7,215.7 181.7,216.06 180.7,217.09 179.7,218.04 178.7,219.06 177.7,220.5 176.7,221.09 175.7,222.03 174.7,223.34 173.7,224.12 172.7,225.5 171.7,226.32 170.7,227.44 169.7,228.07 168.7,229.05 167.7,230.1 166.7,231.59 165.7,232.55 164.7,233.22 163.7,234.17 162.7,234.81 161.7,236.53 160.7,237.33 159.7,238.17 158.7,238.98 157.7,240.27 156.7,241.52 155.7,242.15 154.7,243.18 153.7,244.44 152.7,245.47 151.7,246.07 150.7,247.16 149.7,248.49 148.7,249.84 147.7,250.59 146.7,251.31 145.7,252.57 144.7,253.59 143.7,255.16 142.7,255.74 141.7,257.48 140.7,257.92 139.7,258.89 138.7,259.82 137.7,261.31 136.7,262.41 135.7,263.73 134.7,264.7 133.7,265.24" fill="none" stroke="#008000" stroke-width="1.9" stroke-linejoin="round" stroke-linecap="round"/>
<path d="M85,264.62 86,264.72 87,263.44 88,262.77 89,262.06 90,261.79 91,261.2 92,260.24 93,259.52 94,258.63 95,258.46 96,257.85 97,256.58 98,255.92 99,255.58 100,254.71 101,253.31 102,253.15 103,251.93 104,250.9 105,249.47 106,248.94 107,247.32 108,246.33 109,245.44 110,244.09 111,242.27 112,240.99 113,239.82 114,238.49 115,237.94 116,236.4 117,235.12 118,233.82 119,232.75 120,231.53 121,230.65 122,229.26 123,228.57 124,227.47 125,226.4 126,225.2 127,223.59 128,222.72 129,222 130,220.47 131,219.56 132,218.14 133,217.59 134,216.05 135,214.98 136,214.29 137,212.54 138,211.37 139,210.66 140,209.58 141,208.19 142,207.36 143,206.61 144,205.63 145,204.58 146,203.39 147,201.67 148,200.86 149,199.87 150,198.43 151,198.05 152,196.54 153,195.95 154,194.81 155,193.41 156,192.44 157,191.51 158,190.26 159,189.08 160,188.45 161,187.27 162,186.3 163,185.8 164,184.78 165,183.5 166,182.19 167,181.89 168,180.49 169,179.39 170,179.04 171,178.24 172,176.73 173,176.06 174,175.46 175,174.21 176,173.16 177,172.08 178,171.08 179,170.97 180,170.02 181,168.57 182,168.12 183,166.85 184,166.49 185,165.31 186,164.75 187,163.77 188,162.53 189,162.14 190,161.39 191,160.02 192,159.2 193,158.61 194,158.21 195,157.65 196,156.38 197,155.97 198,155.05 199,153.89 200,153.27 201,152.87 202,151.78 203,151.05 204,150.49 205,149.23 206,148.78 207,148.1 208,147.41 209,146.8 210,145.7 211,145.17 212,144.45 213,143.42 214,143.34 215,142.8 216,141.75 217,140.92 218,140.21 219,139.6 220,138.86 221,138.1 222,138.04 223,136.86 224,136.07 225,135.82 226,134.58 227,134.25 228,133.8 229,133.4 230,132.3 231,131.45 232,131.65 233,130.17 234,129.92 235,129.4 236,129.22 237,128.05 238,127.35 239,126.79 240,126.28 241,125.48 242,125.58 243,124.65 244,124.27 245,123.28 246,123.06 247,122.72 248,121.54 249,121.63 250,120.47 251,120.31 252,119.96 253,118.98 254,118.86 255,117.84 256,117.34 257,117.24 258,116.42 259,115.4 260,114.96 261,114.78 262,114.09 263,113.31 264,113.48 265,112.53 266,112.54 267,111.55 268,110.88 269,110.6 270,110.46 271,110.04 272,109.24 273,108.47 274,108.23 275,107.51 276,107.11 277,106.31 278,105.85 279,106.2 280,105.57 281,104.63 282,104.5 283,103.52 284,103.76 285,103.11 286,102.75 287,102.03 288,101.58 289,101.47 290,100.57 291,99.91 292,99.5 293,99.78 294,98.76 295,98.13 296,98.14 297,97.32 298,97.15 299,97.03 300,96.12 301,95.86 302,95.89 303,95.41 304,94.99 305,93.82 306,94.24 307,93.46 308,92.67 309,93.01 310,91.82 311,92.19 312,90.92 313,90.56 314,90.51 315,90.23 316,89.8 317,89.61 318,88.57 319,88.73 320,87.97 321,88.15 322,87.46 323,87.12 324,86.23 325,86.54 326,85.59 327,85.13 328,84.94 329,84.88 330,84.08 331,83.83 332,83.57 333,82.87 334,82.37 335,82.25 336,82.15 337,81.74 338,80.95 339,80.97 340,80.76 341,80.27 342,79.43 343,78.93 344,79.41 345,78.79 346,78.03 347,78.08 348,77.57 349,77.25 350,76.63 351,76.55 352,75.93 353,75.56 354,75.14 355,75.15 356,74.9 357,74.03 357.7,76.83 356.7,78.08 355.7,79.61 354.7,80.31 353.7,81.05 352.7,82.84 351.7,83.49 350.7,84.17 349.7,85.77 348.7,86.54 347.7,87.81 346.7,88.75 345.7,89.68 344.7,90.66 343.7,91.13 342.7,92.41 341.7,93.01 340.7,94.03 339.7,94.5 338.7,95.71 337.7,96.05 336.7,97.58 335.7,97.78 334.7,98.93 333.7,99.96 332.7,100.71 331.7,101.5 330.7,101.87 329.7,102.3 328.7,103.87 327.7,104.01 326.7,105.26 325.7,105.59 324.7,106.36 323.7,107.19 322.7,107.93 321.7,108.87 320.7,109.43 319.7,109.79 318.7,110.84 317.7,111.18 316.7,112.59 315.7,112.7 314.7,113.59 313.7,114.52 312.7,115.01 311.7,116.23 310.7,116.85 309.7,117.16 308.7,117.96 307.7,118.95 306.7,119.46 305.7,120.28 304.7,120.73 303.7,121.65 302.7,122.38 301.7,123.36 300.7,123.58 299.7,124.69 298.7,124.87 297.7,125.64 296.7,126.3 295.7,127.63 294.7,127.59 293.7,128.46 292.7,129.33 291.7,130.26 290.7,130.92 289.7,131.14 288.7,132.08 287.7,133.09 286.7,133.27 285.7,133.96 284.7,135.3 283.7,135.27 282.7,136.05 281.7,136.85 280.7,138.14 279.7,138.42 278.7,139.2 277.7,140.01 276.7,141.04 275.7,140.99 274.7,141.84 273.7,142.74 272.7,143.68 271.7,143.94 270.7,144.93 269.7,145.77 268.7,146.04 267.7,147 266.7,147.48 265.7,148.97 264.7,148.89 263.7,149.76 262.7,150.9 261.7,151.29 260.7,152.33 259.7,152.86 258.7,154.18 257.7,154.55 256.7,155.1 255.7,155.69 254.7,156.71 253.7,157.72 252.7,158.42 251.7,159.17 250.7,159.76 249.7,160.9 248.7,161.18 247.7,162.08 246.7,163.22 245.7,163.84 244.7,164.33 243.7,165.4 242.7,166.15 241.7,166.51 240.7,167.39 239.7,168.5 238.7,168.95 237.7,169.72 236.7,170.69 235.7,171.07 234.7,172.04 233.7,173.5 232.7,173.65 231.7,174.96 230.7,175.06 229.7,176.15 228.7,177.16 227.7,177.8 226.7,179.19 225.7,180.04 224.7,180.28 223.7,180.97 222.7,182.51 221.7,183.24 220.7,183.84 219.7,184.27 218.7,185.08 217.7,186.54 216.7,187.4 215.7,188.06 214.7,188.81 213.7,189.62 212.7,190.57 211.7,191.49 210.7,192.54 209.7,193.24 208.7,194.05 207.7,194.83 206.7,196.11 205.7,197.25 204.7,197.46 203.7,198.89 202.7,199.67 201.7,200.2 200.7,201.01 199.7,202.55 198.7,202.84 197.7,203.73 196.7,204.62 195.7,206.19 194.7,206.72 193.7,207.3 192.7,208.48 191.7,209.62 190.7,210.51 189.7,211.15 188.7,212.72 187.7,213.53 186.7,214.09 185.7,215.08 184.7,215.97 183.7,216.71 182.7,218.19 181.7,218.85 180.7,220.16 179.7,221.28 178.7,221.78 177.7,222.72 176.7,223.76 175.7,224.83 174.7,225.43 173.7,226.71 172.7,227.63 171.7,228.43 170.7,230.07 169.7,230.94 168.7,231.74 167.7,232.36 166.7,233.95 165.7,234.64 164.7,236.1 163.7,236.89 162.7,237.54 161.7,239.01 160.7,239.88 159.7,240.68 158.7,242.1 157.7,242.71 156.7,243.56 155.7,244.5 154.7,246.05 153.7,246.78 152.7,247.71 151.7,248.65 150.7,250.34 149.7,250.94 148.7,252.51 147.7,253.59 146.7,254.58 145.7,255.1 144.7,256.8 143.7,257.58 142.7,258.84 141.7,259.96 140.7,260.5 139.7,261.62 138.7,263.16 137.7,263.69 136.7,264.6 135.7,264.78" fill="none" stroke="#ff6000" stroke-width="1.9" stroke-linejoin="round" stroke-linecap="round"/>
<path d="M85,264.87 86,264.33 87,264.61 88,263.48 89,263.55 90,263.56 91,263.18 92,263.09 93,262.62 94,262.49 95,262.21 96,261.72 97,261.06 98,260.39 99,259.98 100,259.11 101,258.49 102,258 103,257.12 104,256.2 105,254.98 106,254.78 107,253.14 108,252.17 109,250.91 110,249.93 111,248.93 112,247.86 113,246.34 114,245.41 115,243.67 116,242.56 117,241.23 118,240.61 119,238.7 120,237.65 121,237.05 122,235.51 123,234.31 124,233.55 125,232.6 126,231.54 127,230.29 128,229.34 129,228.22 130,227.06 131,226.28 132,224.96 133,223.85 134,223.43 135,222.31 136,220.77 137,219.81 138,218.34 139,217.18 140,216.53 141,215.83 142,213.96 143,213.2 144,212.42 145,210.62 146,210.06 147,208.68 148,208.04 149,207.02 150,206 151,204.83 152,203.14 153,202.58 154,201.44 155,200.15 156,199.01 157,198.21 158,197.12 159,196.08 160,195.54 161,193.87 162,193.42 163,191.78 164,191.27 165,190.06 166,189.03 167,188.13 168,186.84 169,185.96 170,185.17 171,184.02 172,183.67 173,182.59 174,181.6 175,180.73 176,179.33 177,178.28 178,177.44 179,177.26 180,176.01 181,175.56 182,174.09 183,173.27 184,172.63 185,171.95 186,170.71 187,169.91 188,168.94 189,168 190,167.76 191,166.93 192,165.68 193,164.6 194,164.44 195,163.27 196,162.72 197,161.63 198,160.53 199,160.34 200,158.99 201,158.96 202,157.5 203,156.89 204,155.82 205,155.26 206,154.9 207,153.65 208,152.93 209,152.15 210,151.38 211,151.1 212,150.12 213,149.88 214,149.11 215,148.24 216,147.92 217,147.26 218,145.98 219,145.71 220,144.95 221,143.82 222,143.68 223,142.34 224,142.25 225,141.79 226,140.91 227,140.3 228,139.62 229,138.75 230,137.84 231,137.44 232,136.75 233,136.57 234,136.01 235,135.47 236,134.28 237,134.17 238,133.57 239,132.17 240,132.05 241,131.04 242,130.43 243,130.17 244,129.82 245,128.76 246,128.31 247,127.88 248,127.36 249,126.41 250,125.89 251,125.19 252,124.9 253,124.95 254,123.67 255,123.63 256,122.99 257,122.64 258,122.04 259,120.84 260,120.54 261,120.46 262,119.77 263,119.43 264,118.16 265,118.37 266,117.45 267,117.29 268,116.59 269,115.87 270,115.52 271,114.56 272,114.88 273,114.32 274,113.62 275,113.13 276,112.71 277,111.96 278,111.29 279,111.17 280,110.99 281,110.41 282,109.87 283,108.82 284,108.48 285,107.98 286,107.77 287,107.6 288,106.89 289,106.39 290,105.79 291,105.11 292,104.73 293,104.93 294,104.41 295,103.73 296,103.31 297,102.45 298,101.83 299,101.39 300,100.94 301,100.67 302,100.94 303,100.14 304,99.39 305,98.84 306,98.35 307,97.92 308,97.61 309,97.37 310,96.78 311,96.43 312,96.37 313,95.51 314,95.1 315,95.26 316,94.41 317,94.31 318,93.59 319,93.56 320,92.54 321,92.37 322,92.5 323,91.59 324,91.5 325,90.72 326,90.23 327,90.12 328,89.76 329,88.98 330,89.04 331,88.55 332,88.11 333,88.08 334,87.81 335,86.99 336,86.52 337,86.56 338,86.16 339,85.56 340,85.27 341,84.65 342,84.62 343,84.11 344,83.99 345,83.11 346,82.53 347,82.87 348,82.25 349,82.07 350,81.65 351,81.31 352,80.57 353,80.66 354,80.07 355,79.51 356,78.93 357,78.5 357.7,81.62 356.7,82.73 355.7,83.75 354.7,85.01 353.7,86.31 352.7,86.93 351.7,87.99 350.7,88.36 349.7,89.93 348.7,90.72 347.7,91.86 346.7,92.4 345.7,93.57 344.7,94.35 343.7,95.48 342.7,96.04 341.7,97.26 340.7,98.16 339.7,98.7 338.7,99.51 337.7,100.52 336.7,101.17 335.7,102.39 334.7,103.16 333.7,103.55 332.7,104.51 331.7,104.75 330.7,106.24 329.7,106.75 328.7,106.98 327.7,107.72 326.7,109.23 325.7,109.93 324.7,110.53 323.7,111.09 322.7,111.69 321.7,112.65 320.7,113.77 319.7,114.26 318.7,114.47 317.7,115.35 316.7,115.97 315.7,117.4 314.7,118.11 313.7,118.91 312.7,119.19 311.7,119.81 310.7,120.3 309.7,121.2 308.7,122 307.7,122.75 306.7,123.42 305.7,124.49 304.7,125.32 303.7,125.6 302.7,126.71 301.7,126.94 300.7,127.63 299.7,128.81 298.7,128.88 297.7,129.58 296.7,131.11 295.7,131.35 294.7,132 293.7,133.03 292.7,133.84 291.7,134.07 290.7,135.17 289.7,135.26 288.7,136.65 287.7,136.93 286.7,137.6 285.7,137.97 284.7,138.72 283.7,139.72 282.7,140.17 281.7,141.37 280.7,142.38 279.7,142.45 278.7,143.57 277.7,144.12 276.7,144.86 275.7,145.71 274.7,146.16 273.7,147.18 272.7,147.29 271.7,148.47 270.7,149.05 269.7,149.46 268.7,150.21 267.7,151.57 266.7,152.01 265.7,152.61 264.7,153.33 263.7,154.37 262.7,154.9 261.7,155.26 260.7,156.63 259.7,157.28 258.7,157.95 257.7,158.62 256.7,159.33 255.7,159.75 254.7,161.08 253.7,161.59 252.7,161.84 251.7,163.17 250.7,163.58 249.7,164 248.7,165.5 247.7,165.67 246.7,166.6 245.7,167.07 244.7,168.23 243.7,169.01 242.7,170.04 241.7,170.93 240.7,171.65 239.7,172.24 238.7,172.78 237.7,174.05 236.7,174.2 235.7,175.07 234.7,176.09 233.7,176.71 232.7,177.69 231.7,178.09 230.7,179.01 229.7,179.62 228.7,180.8 227.7,181.45 226.7,182.78 225.7,183.1 224.7,183.86 223.7,185.16 222.7,185.52 221.7,186.93 220.7,187.49 219.7,187.98 218.7,189.32 217.7,190.43 216.7,190.65 215.7,191.72 214.7,192.57 213.7,193.79 212.7,194.68 211.7,194.7 210.7,195.85 209.7,197.1 208.7,197.62 207.7,198.57 206.7,199.5 205.7,199.88 204.7,200.78 203.7,202.44 202.7,202.87 201.7,203.8 200.7,204.8 199.7,205.87 198.7,206.89 197.7,207.06 196.7,208.46 195.7,208.8 194.7,210.2 193.7,211.35 192.7,211.96 191.7,212.78 190.7,214.14 189.7,214.92 188.7,216.04 187.7,216.64 186.7,217.36 185.7,218.64 184.7,219.39 183.7,219.9 182.7,220.96 181.7,222.65 180.7,223.32 179.7,223.72 178.7,225.32 177.7,226.29 176.7,226.61 175.7,228.42 174.7,228.66 173.7,229.93 172.7,231.09 171.7,231.86 170.7,232.71 169.7,233.81 168.7,234.94 167.7,236.22 166.7,237.14 165.7,238.24 164.7,239.07 163.7,239.77 162.7,240.67 161.7,242.17 160.7,243.19 159.7,243.65 158.7,245.1 157.7,245.73 156.7,246.49 155.7,247.89 154.7,249.3 153.7,250 152.7,251.29 151.7,252.35 150.7,253.35 149.7,253.94 148.7,255.54 147.7,255.85 146.7,257.28 145.7,257.96 144.7,259.28 143.7,260.8 142.7,261.8 141.7,263.03 140.7,263.71 139.7,264.75 138.7,264.9" fill="none" stroke="#8000ff" stroke-width="1.9" stroke-linejoin="round" stroke-linecap="round"/>
<path d="M138.7,265.19 85,265.53" fill="none" stroke="#8000ff" stroke-width="2.0" stroke-linejoin="round" stroke-linecap="round"/>
<path d="M481.98,264.48 482.72,263.35 483.47,261.48 484.21,260.34 484.94,258.42 485.68,257.47 486.41,255.39 487.14,253.87 487.87,252.72 488.6,251.36 489.32,249.82 490.05,248.11 490.77,246.83 491.49,244.97 492.22,243.56 492.94,242.03 493.66,240.49 494.38,238.86 495.1,237.48 495.82,236.21 496.55,234.76 497.27,233.07 497.99,231.76 498.72,230.07 499.44,228.91 500.17,226.86 500.9,225.9 501.63,224.5 502.37,222.78 503.1,221.34 503.84,220.09 504.58,218.02 505.33,216.51 506.08,215.32 506.83,213.99 507.58,212.38 508.34,210.88 509.1,209.37 509.87,207.93 510.64,206.75 511.42,204.73 512.2,203.68 512.98,201.84 513.77,200.91 514.57,199.06 515.37,198 516.18,196.22 516.99,195.01 517.82,193.49 518.64,192.38 519.47,190.63 520.32,189.24 521.16,187.82 522.02,186.24 522.88,185.32 523.75,183.51 524.63,181.99 525.51,180.64 526.41,179.62 527.31,178.38 528.22,176.8 529.14,175.69 530.07,173.83 531.01,172.94 531.95,171.52 532.91,169.8 533.88,168.39 534.86,167.3 535.84,165.98 536.84,164.73 537.85,163.59 538.87,161.95 539.9,160.69 540.94,159.47 542,158.08 543.06,157.02 544.14,155.88 545.23,154.41 546.33,153.08 547.45,152.27 548.58,150.6 549.72,149.93 550.87,148.56 552.04,147.1 553.22,145.77 554.41,145.18 555.61,143.44 556.83,142.8 558.06,141.51 559.3,140.49 560.55,139.03 561.82,138.29 563.09,136.86 564.38,136 565.68,135.19 566.99,133.87 568.31,132.51 569.64,131.53 570.97,130.62 572.32,129.9 573.68,128.88 575.05,127.61 576.43,126.77 577.82,125.65 579.22,124.79 580.62,123.74 582.04,123.26 583.46,121.95 584.89,121.02 586.33,120.36 587.77,119.22 589.23,118.3 590.69,117.7 592.16,117.15 593.64,116.03 595.12,115.19 596.61,114.43 598.1,113.9 599.61,112.93 601.12,112.4 602.63,111.68 604.15,110.67 605.68,110.2 607.21,109.9 608.74,108.85 610.28,108.62 611.83,107.55 613.38,107.27 614.94,106.68 616.49,106.32 618.06,105.37 619.62,104.97 621.2,104.72 622.77,104.66 624.35,103.98 625.93,103.87 627.51,103.3 629.09,103.32 630.68,102.41 632.27,102.73 633.86,102.09 635.46,101.9 637.05,101.98 638.65,101.81 640.25,102.16 641.85,102.1 643.45,101.97 645.05,101.7 646.65,101.79 648.25,102.08 649.86,102.19 651.46,102.36 653.06,102.63 654.66,103 656.25,103.39 657.84,103.67 659.42,104.27 660.99,105.22 662.55,105.68 664.09,106.11 665.62,106.98 667.13,107.63 668.63,107.74 670.1,108.45 671.54,109.44 672.97,110.39 674.36,111.58 675.73,111.79 677.06,113.19 678.36,114.22 679.63,114.85 680.86,116.23 682.06,117.37 683.22,117.93 684.35,119.45 685.44,120.48 686.51,121.88 687.55,122.66 688.55,124.26 689.54,125.07 690.49,126.38 691.43,127.98 692.34,129.25 693.23,130.67 694.1,131.9 694.95,133.85 695.79,134.86 696.61,136.35 697.42,137.7 698.21,139.53 699,140.51 699.77,142.54 700.53,143.53 701.29,145.52 702.04,146.73 702.78,148.39 703.52,149.67 704.26,151.63 704.98,152.78 705.71,154.74 706.42,156.22 707.13,157.97 707.84,159.63 708.54,161.09 709.24,162.25 709.94,164.31 710.63,165.42 711.32,167.53 712,169.22 712.69,170.3 713.37,171.85 714.04,174.02 714.72,175.33 715.39,177.19 716.07,178.92 716.74,180.64 717.41,181.98 718.07,183.84 718.74,185.53 719.41,187.06 720.08,188.41 720.75,190.43 721.41,191.71 722.08,193.67 722.75,194.93 723.42,196.62 724.08,197.92 724.74,199.58 725.38,201.77 726.01,203.04 726.63,204.83 727.22,206.24 727.79,208 728.33,209.43 728.84,210.74 729.32,212.42 729.77,214.2 730.17,215.41 730.53,217.5 730.84,218.4 731.11,220.27 731.32,222 731.48,223.39 731.57,224.47 731.61,225.92 731.58,227.8 731.48,229.04 731.31,230.26 731.07,231.7 730.77,233.48 730.4,234.42 729.96,235.98 729.46,237.79 728.9,238.64 728.28,240.38 727.6,241.09 726.86,242.48 726.07,243.62 725.22,245.32 724.32,246.4 723.37,247.71 722.37,248.88 721.32,249.92 720.22,250.57 719.08,251.87 717.89,252.58 716.66,254.1 715.39,254.75 714.08,255.72 712.74,256.89 711.35,257.8 709.93,258.32 708.48,258.92 707,259.98 705.48,260.63 703.94,260.81 702.37,261.56 700.77,262.45 699.15,262.96 697.5,263.37 695.83,263.48 694.15,263.63 692.44,264.47 690.72,264.3 688.98,264.84 687.23,264.93 685.47,265.45 683.69,265.29 681.91,265.44 680.12,265.89 678.32,265.91 676.52,266.17 674.72,265.61 672.91,265.65 671.11,266.04 669.31,265.92 667.51,266.18 665.71,265.84 663.92,265.51 662.14,265.76 660.37,265.54 658.61,265.85 656.87,265.78 655.13,265.74 653.42,265.13 651.72,265.37 650.04,265.03 648.38,265.5 646.74,264.84 645.12,265.12 643.53,265.11 641.97,264.69 640.43,264.91 638.93,264.56 637.45,264.49 636.01,264.64 634.61,264.51 633.23,264.79 631.9,265.01 630.61,265.25" fill="none" stroke="#000" stroke-width="2.0" stroke-linejoin="round" stroke-linecap="round"/>
<path d="M482.95,265.19 483.9,265.37 484.85,265.54 485.8,265.19 486.75,265.17 487.7,265.21 488.64,265.62 489.59,265.19 490.53,265.55 491.47,264.99 492.4,265.13 493.34,265.12 494.27,265.06 495.21,265 496.14,265.22 497.07,265.6 497.99,265.47 498.92,265.78 499.84,265.18 500.77,265.18 501.69,265.14 502.6,265.38 503.52,265.06 504.44,265.69 505.35,265.36 506.26,265.04 507.17,265.47 508.08,265.42 508.98,265.23 509.88,265.35 510.79,265.7 511.69,266.02 512.59,265.69 513.48,265.4 514.38,265.22 515.27,265.51 516.16,265.45 517.05,265.63 517.94,265.65 518.82,265.48 519.7,265.32 520.59,265.92 521.47,265.81 522.34,265.42 523.22,265.37 524.09,264.76 524.97,264.57 525.84,263.93 526.71,263.72 527.58,263.47 528.44,262.93 529.31,262.59 530.18,262.02 531.05,261.39 531.92,261.42 532.78,261.14 533.65,260.19 534.52,259.79 535.4,259.32 536.27,259.22 537.14,258.86 538.02,258.59 538.9,258.29 539.78,258.17 540.66,257.8 541.55,258.3 542.44,257.29 543.33,257.05 544.22,257.7 545.12,257.05 546.02,257.24 546.92,256.72 547.82,256.33 548.72,256.25 549.63,256.95 550.54,256.09 551.44,256.38 552.35,256.16 553.26,256.45 554.17,256.18 555.09,256.54 556,255.98 556.91,256.26 557.82,256.66 558.74,256.26 559.65,256.66 560.56,255.86 561.48,256.64 562.39,256.23 563.31,256.82 564.22,256.61 565.14,256.26 566.05,256.79 566.97,256.32 567.88,256.71 568.8,256.99 569.72,256.56 570.63,256.55 571.55,257.35 572.47,256.87 573.38,257.49 574.3,257.35 575.22,257.21 576.13,257.94 577.05,257.62 577.97,257.65 578.89,258.36 579.8,258.58 580.72,258.13 581.64,258.85 582.56,258.22 583.47,258.99 584.39,258.95 585.31,258.8 586.23,259.1 587.14,259.19 588.06,259.67 588.98,259.6 589.89,259.77 590.81,260.16 591.73,260.04 592.64,259.97 593.56,260.51 594.48,261.01 595.39,260.62 596.31,260.82 597.22,261.57 598.14,261.06 599.05,261.95 599.97,261.53 600.88,261.61 601.79,262.25 602.71,262.56 603.62,262.35 604.53,262.34 605.45,262.37 606.36,262.42 607.27,263.21 608.18,263.4 609.09,263.17 610,263.47 610.91,263.88 611.82,263.96 612.73,264.09 613.64,264.45 614.55,263.98 615.45,264.76 616.36,264.58 617.27,264.43 618.17,264.88 619.08,264.65 619.98,264.86 620.89,265.34 621.79,265.42 622.69,265.33 623.6,265.61 624.5,265.75 625.4,265.4 626.3,265.19 627.2,266.04" fill="none" stroke="#ff0000" stroke-width="1.9" stroke-linejoin="round" stroke-linecap="round"/>
<rect x="85" y="26.2" width="299.8" height="239.8" fill="none" stroke="#000" stroke-width="2"/>
<path d="M139.51 266v-5.6M139.51 26.2v5.6M194.02 266v-5.6M194.02 26.2v5.6M248.53 266v-5.6M248.53 26.2v5.6M303.04 266v-5.6M303.04 26.2v5.6M357.55 266v-5.6M357.55 26.2v5.6M112.25 266v-3M112.25 26.2v3M166.76 266v-3M166.76 26.2v3M221.27 266v-3M221.27 26.2v3M275.78 266v-3M275.78 26.2v3M330.29 266v-3M330.29 26.2v3M85 206.05h5.6M384.8 206.05h-5.6M85 146.1h5.6M384.8 146.1h-5.6M85 86.15h5.6M384.8 86.15h-5.6M85 236.03h3M384.8 236.03h-3M85 176.07h3M384.8 176.07h-3M85 116.12h3M384.8 116.12h-3M85 56.18h3M384.8 56.18h-3" stroke="#000" stroke-width="2" fill="none"/>
<rect x="482.7" y="26.2" width="300" height="239.8" fill="none" stroke="#000" stroke-width="2"/>
<path d="M532.7 266v-5.6M532.7 26.2v5.6M582.7 266v-5.6M582.7 26.2v5.6M632.7 266v-5.6M632.7 26.2v5.6M682.7 266v-5.6M682.7 26.2v5.6M732.7 266v-5.6M732.7 26.2v5.6M507.7 266v-3M507.7 26.2v3M557.7 266v-3M557.7 26.2v3M607.7 266v-3M607.7 26.2v3M657.7 266v-3M657.7 26.2v3M707.7 266v-3M707.7 26.2v3M757.7 266v-3M757.7 26.2v3M482.7 206.05h5.6M782.7 206.05h-5.6M482.7 146.1h5.6M782.7 146.1h-5.6M482.7 86.15h5.6M782.7 86.15h-5.6M482.7 236.03h3M782.7 236.03h-3M482.7 176.07h3M782.7 176.07h-3M482.7 116.12h3M782.7 116.12h-3M482.7 56.18h3M782.7 56.18h-3" stroke="#000" stroke-width="2" fill="none"/>
<text x="79.7" y="271.6" font-size="21.5" text-anchor="end" fill="#000" font-family="Liberation Sans, sans-serif" >0</text>
<text x="477.4" y="271.6" font-size="21.5" text-anchor="end" fill="#000" font-family="Liberation Sans, sans-serif" >0</text>
<text x="79.7" y="211.65" font-size="21.5" text-anchor="end" fill="#000" font-family="Liberation Sans, sans-serif" >15</text>
<text x="477.4" y="211.65" font-size="21.5" text-anchor="end" fill="#000" font-family="Liberation Sans, sans-serif" >15</text>
<text x="79.7" y="151.7" font-size="21.5" text-anchor="end" fill="#000" font-family="Liberation Sans, sans-serif" >30</text>
<text x="477.4" y="151.7" font-size="21.5" text-anchor="end" fill="#000" font-family="Liberation Sans, sans-serif" >30</text>
<text x="79.7" y="91.75" font-size="21.5" text-anchor="end" fill="#000" font-family="Liberation Sans, sans-serif" >45</text>
<text x="477.4" y="91.75" font-size="21.5" text-anchor="end" fill="#000" font-family="Liberation Sans, sans-serif" >45</text>
<text x="79.7" y="31.8" font-size="21.5" text-anchor="end" fill="#000" font-family="Liberation Sans, sans-serif" >60</text>
<text x="477.4" y="31.8" font-size="21.5" text-anchor="end" fill="#000" font-family="Liberation Sans, sans-serif" >60</text>
<text x="85" y="287.7" font-size="21.5" text-anchor="middle" fill="#000" font-family="Liberation Sans, sans-serif" textLength="28.8" lengthAdjust="spacingAndGlyphs">0.0</text>
<text x="139.51" y="287.7" font-size="21.5" text-anchor="middle" fill="#000" font-family="Liberation Sans, sans-serif" textLength="28.8" lengthAdjust="spacingAndGlyphs">0.1</text>
<text x="194.02" y="287.7" font-size="21.5" text-anchor="middle" fill="#000" font-family="Liberation Sans, sans-serif" textLength="28.8" lengthAdjust="spacingAndGlyphs">0.2</text>
<text x="248.53" y="287.7" font-size="21.5" text-anchor="middle" fill="#000" font-family="Liberation Sans, sans-serif" textLength="28.8" lengthAdjust="spacingAndGlyphs">0.3</text>
<text x="303.04" y="287.7" font-size="21.5" text-anchor="middle" fill="#000" font-family="Liberation Sans, sans-serif" textLength="28.8" lengthAdjust="spacingAndGlyphs">0.4</text>
<text x="357.55" y="287.7" font-size="21.5" text-anchor="middle" fill="#000" font-family="Liberation Sans, sans-serif" textLength="28.8" lengthAdjust="spacingAndGlyphs">0.5</text>
<text x="482.7" y="287.7" font-size="21.5" text-anchor="middle" fill="#000" font-family="Liberation Sans, sans-serif" textLength="28.8" lengthAdjust="spacingAndGlyphs">0.0</text>
<text x="532.7" y="287.7" font-size="21.5" text-anchor="middle" fill="#000" font-family="Liberation Sans, sans-serif" textLength="28.8" lengthAdjust="spacingAndGlyphs">0.2</text>
<text x="582.7" y="287.7" font-size="21.5" text-anchor="middle" fill="#000" font-family="Liberation Sans, sans-serif" textLength="28.8" lengthAdjust="spacingAndGlyphs">0.4</text>
<text x="632.7" y="287.7" font-size="21.5" text-anchor="middle" fill="#000" font-family="Liberation Sans, sans-serif" textLength="28.8" lengthAdjust="spacingAndGlyphs">0.6</text>
<text x="682.7" y="287.7" font-size="21.5" text-anchor="middle" fill="#000" font-family="Liberation Sans, sans-serif" textLength="28.8" lengthAdjust="spacingAndGlyphs">0.8</text>
<text x="732.7" y="287.7" font-size="21.5" text-anchor="middle" fill="#000" font-family="Liberation Sans, sans-serif" textLength="28.8" lengthAdjust="spacingAndGlyphs">1.0</text>
<text x="782.7" y="287.7" font-size="21.5" text-anchor="middle" fill="#000" font-family="Liberation Sans, sans-serif" textLength="28.8" lengthAdjust="spacingAndGlyphs">1.2</text>
<text transform="translate(40,158.1) rotate(-90)" font-size="21.2" font-family="Liberation Sans, sans-serif">(kPa)</text>
<text transform="translate(40.4,175.9) rotate(-90)" font-size="20" textLength="13.5" lengthAdjust="spacingAndGlyphs" font-family="Liberation Serif, serif" font-style="italic">σ</text>
<text transform="translate(438,153.9) rotate(-90)" font-size="21.2" font-family="Liberation Sans, sans-serif">(kPa)</text>
<text transform="translate(438.3,172.4) rotate(-90)" font-size="20" textLength="13.5" lengthAdjust="spacingAndGlyphs" font-family="Liberation Serif, serif" font-style="italic">σ</text>
<text x="213" y="309.2" font-size="21.5" textLength="10.2" lengthAdjust="spacingAndGlyphs" font-family="Liberation Serif, serif" font-style="italic">ε</text>
<text x="614.3" y="312.2" font-size="21.5" textLength="10.2" lengthAdjust="spacingAndGlyphs" font-family="Liberation Serif, serif" font-style="italic">ε</text>
<text x="132.4" y="120.7" font-size="15.7" textLength="86.4" lengthAdjust="spacing" fill="#000" font-family="Liberation Sans, sans-serif">First loading</text>
<text x="588.25" y="145.8" font-size="15.7" textLength="86.25" lengthAdjust="spacing" fill="#000" font-family="Liberation Sans, sans-serif">First loading</text>
<text x="219.4" y="90.4" font-size="15.6" textLength="21.58" lengthAdjust="spacing" fill="#ff0000" font-family="Liberation Sans, sans-serif">2 h</text>
<text x="246.5" y="77.8" font-size="15.6" textLength="20.58" lengthAdjust="spacing" fill="#0000ff" font-family="Liberation Sans, sans-serif">1 h</text>
<text x="277.5" y="64.3" font-size="15.6" textLength="34.99" lengthAdjust="spacing" fill="#ff00ff" font-family="Liberation Sans, sans-serif">0.5 h</text>
<text x="328.0" y="132.4" font-size="15.6" textLength="46.82" lengthAdjust="spacing" fill="#800000" font-family="Liberation Sans, sans-serif">15 min</text>
<text x="284.1" y="166.0" font-size="15.6" textLength="38.44" lengthAdjust="spacing" fill="#008000" font-family="Liberation Sans, sans-serif">5 min</text>
<text x="252.3" y="193.7" font-size="15.6" textLength="38.14" lengthAdjust="spacing" fill="#ff6000" font-family="Liberation Sans, sans-serif">2 min</text>
<text x="220.9" y="219.8" font-size="15.6" textLength="38.14" lengthAdjust="spacing" fill="#8000ff" font-family="Liberation Sans, sans-serif">1 min</text>
<text x="553.5" y="246.6" font-size="15.9" textLength="21.2" lengthAdjust="spacing" fill="#ff0000" font-family="Liberation Sans, sans-serif">2 h</text>
<text x="2.4" y="22.5" font-size="25.0" textLength="30.95" lengthAdjust="spacing" fill="#000" font-family="Liberation Sans, sans-serif">(a)</text>
<text x="404.0" y="27.5" font-size="21.6" textLength="27.8" lengthAdjust="spacing" fill="#000" font-family="Liberation Sans, sans-serif">(b)</text>
<path d="M175.5 130L177.62 145.56" stroke="#000" stroke-width="1.4"/>
<path d="M178.5 152L175.44 145.86L179.8 145.26Z" fill="#000"/>
<path d="M232.8 104.4L234.69 119.55" stroke="#000" stroke-width="1.4"/>
<path d="M235.5 126L232.51 119.82L236.88 119.28Z" fill="#000"/>
<path d="M260.9 88.2L262.51 103.14" stroke="#000" stroke-width="1.4"/>
<path d="M263.2 109.6L260.32 103.37L264.69 102.9Z" fill="#000"/>
<path d="M294.4 68.8L296.79 83.98" stroke="#000" stroke-width="1.4"/>
<path d="M297.8 90.4L294.62 84.32L298.96 83.64Z" fill="#000"/>
<path d="M335.6 119.5L329 105.01" stroke="#000" stroke-width="1.4"/>
<path d="M326.3 99.1L331 104.1L326.99 105.93Z" fill="#000"/>
<path d="M295.4 150.6L288.79 136.67" stroke="#000" stroke-width="1.4"/>
<path d="M286 130.8L290.78 135.73L286.8 137.62Z" fill="#000"/>
<path d="M265.6 177.5L258.36 163.93" stroke="#000" stroke-width="1.4"/>
<path d="M255.3 158.2L260.3 162.9L256.42 164.97Z" fill="#000"/>
<path d="M235.2 207.3L229.09 193.26" stroke="#000" stroke-width="1.4"/>
<path d="M226.5 187.3L231.11 192.38L227.08 194.14Z" fill="#000"/>
</svg>
</body></html>
